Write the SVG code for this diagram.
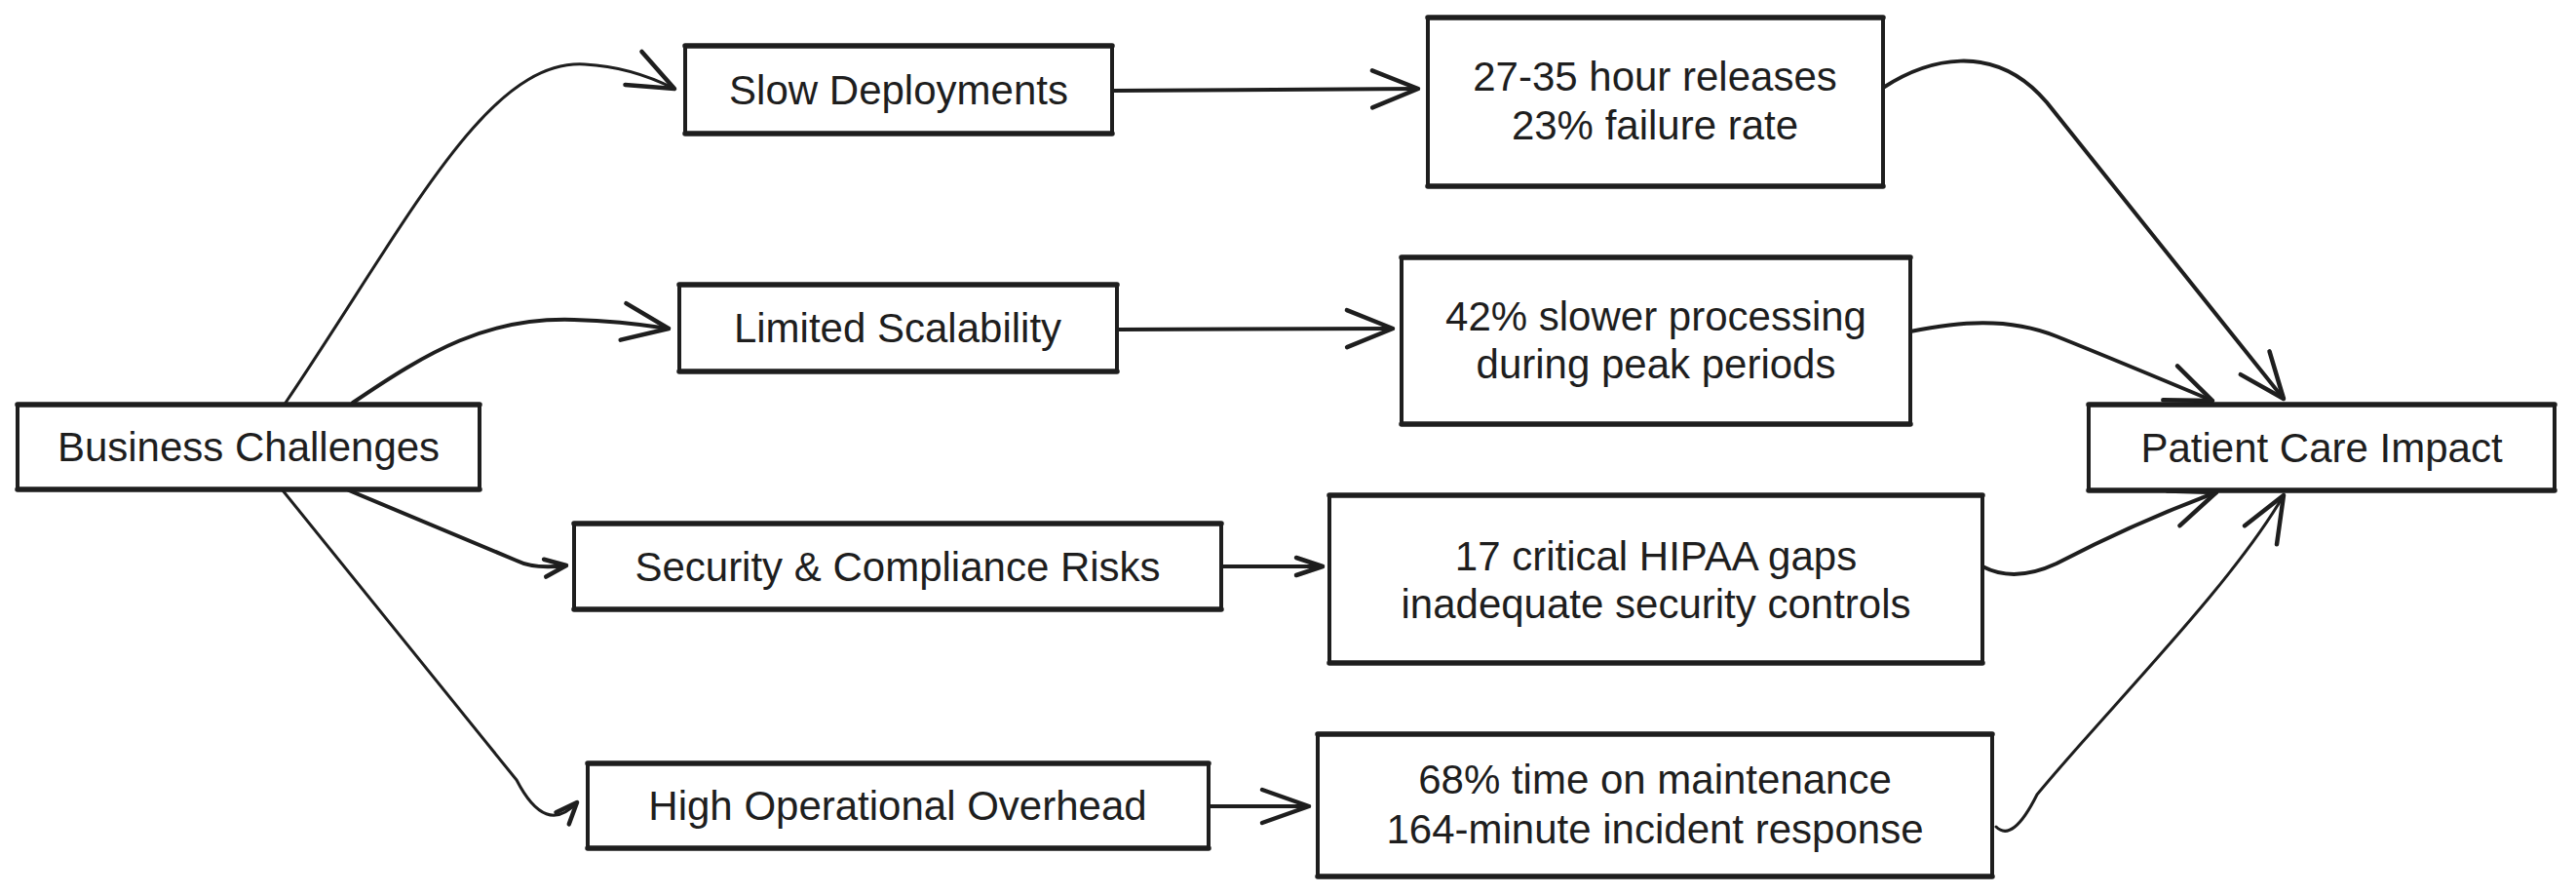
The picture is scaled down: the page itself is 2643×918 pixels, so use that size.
<svg xmlns="http://www.w3.org/2000/svg" width="2643" height="918" viewBox="0 0 2643 918">
<style>
.box{fill:#ffffff;stroke:#1e1e1e;stroke-width:4;stroke-linejoin:round}
.edge{fill:none;stroke:#1e1e1e;stroke-width:5.5;stroke-linecap:round}
.lbl{font-family:"Liberation Sans",Arial,sans-serif;font-size:42px;fill:#1e1e1e;text-anchor:middle}
.conn{fill:none;stroke:#1e1e1e;stroke-width:4;stroke-linecap:round;stroke-linejoin:round}
.thin{stroke-width:3}
</style>
<defs>
<marker id="ah" markerUnits="userSpaceOnUse" viewBox="-60 -30 70 60" refX="0" refY="0" markerWidth="70" markerHeight="60" orient="auto">
<path d="M-47,-19 L0,0 L-47,19" fill="none" stroke="#1e1e1e" stroke-width="4.5" stroke-linecap="round" stroke-linejoin="round"/>
</marker>
<marker id="am" markerUnits="userSpaceOnUse" viewBox="-60 -30 70 60" refX="0" refY="0" markerWidth="70" markerHeight="60" orient="auto">
<path d="M-48,-17 L0,0 L-48,17" fill="none" stroke="#1e1e1e" stroke-width="4.5" stroke-linecap="round" stroke-linejoin="round"/>
</marker>
<marker id="as" markerUnits="userSpaceOnUse" viewBox="-40 -20 50 40" refX="0" refY="0" markerWidth="50" markerHeight="40" orient="auto">
<path d="M-27,-9 L0,0 L-27,9" fill="none" stroke="#1e1e1e" stroke-width="4.5" stroke-linecap="round" stroke-linejoin="round"/>
</marker>
<marker id="ax" markerUnits="userSpaceOnUse" viewBox="-40 -20 50 40" refX="0" refY="0" markerWidth="50" markerHeight="40" orient="auto">
<path d="M-22,-9 L0,0 L-22,9" fill="none" stroke="#1e1e1e" stroke-width="4.5" stroke-linecap="round" stroke-linejoin="round"/>
</marker>
</defs>
<rect width="2643" height="918" fill="#ffffff"/>

<g id="connectors">
<path class="conn thin" d="M293,413 C420,225 500,60 600,66 C640,68 670,80 692,91" marker-end="url(#ah)"/>
<path class="conn" d="M362,413 C440,360 500,325 589,328 C630,329 660,333 686,337" marker-end="url(#ah)"/>
<path class="conn" d="M358,503 L530,575 Q548,584 581,580" marker-end="url(#ax)"/>
<path class="conn thin" d="M290,503 L530,800 Q560,858 592,823" marker-end="url(#ax)"/>
<path class="conn" d="M1141,93 L1455,91" marker-end="url(#ah)"/>
<path class="conn" d="M1146,338 L1429,337" marker-end="url(#ah)"/>
<path class="conn" d="M1253,581 L1357,581" marker-end="url(#as)"/>
<path class="conn" d="M1240,827 L1343,827" marker-end="url(#am)"/>
<path class="conn" d="M1932,90 C1975,62 2045,40 2100,105 L2343,409" marker-end="url(#ah)"/>
<path class="conn" d="M1960,340 C2010,330 2060,325 2110,345 C2160,365 2220,390 2270,411" marker-end="url(#ah)"/>
<path class="conn" d="M2034,581 C2055,592 2080,592 2110,578 C2160,552 2220,525 2274,505" marker-end="url(#ah)"/>
<path class="conn thin" d="M2048,848 Q2065,865 2090,815 C2160,730 2290,600 2343,508" marker-end="url(#ah)"/>
</g>

<g id="business-challenges">
<rect class="box" x="18" y="415" width="474" height="87"/>
<path class="edge" d="M18,415 L492,415 M18,502 L492,502"/>
<text class="lbl" x="255" y="473">Business Challenges</text>
</g>

<g id="slow-deployments">
<rect class="box" x="703" y="47" width="438" height="90"/>
<path class="edge" d="M703,47 L1141,47 M703,137 L1141,137"/>
<text class="lbl" x="922" y="107">Slow Deployments</text>
</g>

<g id="limited-scalability">
<rect class="box" x="697" y="292" width="449" height="89"/>
<path class="edge" d="M697,292 L1146,292 M697,381 L1146,381"/>
<text class="lbl" x="921" y="351">Limited Scalability</text>
</g>

<g id="security-compliance">
<rect class="box" x="589" y="537" width="664" height="88"/>
<path class="edge" d="M589,537 L1253,537 M589,625 L1253,625"/>
<text class="lbl" x="921" y="596">Security &amp; Compliance Risks</text>
</g>

<g id="operational-overhead">
<rect class="box" x="603" y="783" width="637" height="87"/>
<path class="edge" d="M603,783 L1240,783 M603,870 L1240,870"/>
<text class="lbl" x="921" y="841">High Operational Overhead</text>
</g>

<g id="release-stats">
<rect class="box" x="1465" y="18" width="467" height="173"/>
<path class="edge" d="M1465,18 L1932,18 M1465,191 L1932,191"/>
<text class="lbl" x="1698" y="93">27-35 hour releases</text>
<text class="lbl" x="1698" y="143">23% failure rate</text>
</g>

<g id="processing-stats">
<rect class="box" x="1438" y="264" width="522" height="171"/>
<path class="edge" d="M1438,264 L1960,264 M1438,435 L1960,435"/>
<text class="lbl" x="1699" y="339">42% slower processing</text>
<text class="lbl" x="1699" y="388">during peak periods</text>
</g>

<g id="hipaa-stats">
<rect class="box" x="1364" y="508" width="670" height="172"/>
<path class="edge" d="M1364,508 L2034,508 M1364,680 L2034,680"/>
<text class="lbl" x="1699" y="585">17 critical HIPAA gaps</text>
<text class="lbl" x="1699" y="634">inadequate security controls</text>
</g>

<g id="maintenance-stats">
<rect class="box" x="1352" y="753" width="692" height="146"/>
<path class="edge" d="M1352,753 L2044,753 M1352,899 L2044,899"/>
<text class="lbl" x="1698" y="814">68% time on maintenance</text>
<text class="lbl" x="1698" y="865">164-minute incident response</text>
</g>

<g id="patient-care-impact">
<rect class="box" x="2143" y="415" width="478" height="88"/>
<path class="edge" d="M2143,415 L2621,415 M2143,503 L2621,503"/>
<text class="lbl" x="2382" y="474">Patient Care Impact</text>
</g>
</svg>
